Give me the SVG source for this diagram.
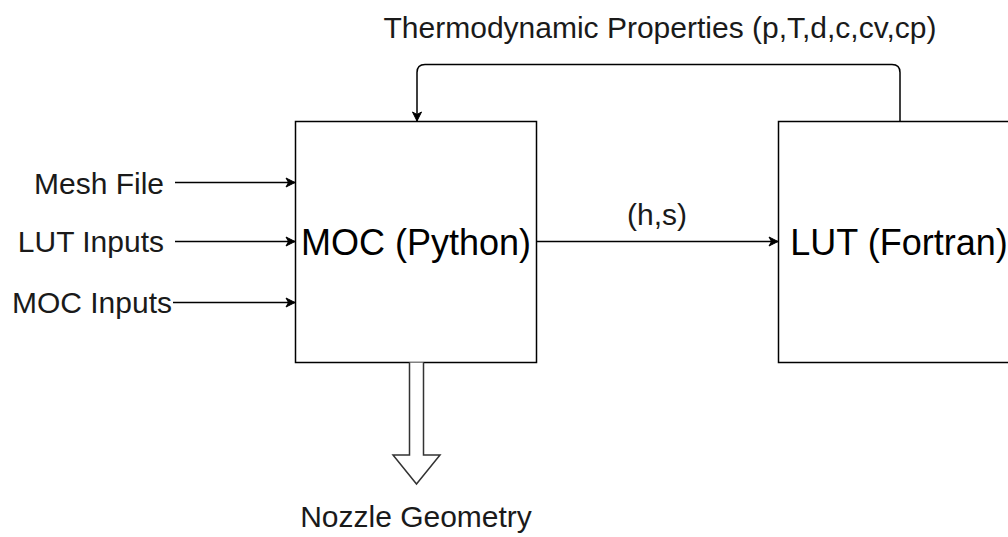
<svg xmlns="http://www.w3.org/2000/svg" width="1008" height="537" viewBox="0 0 1008 537">
  <style>
    .box { fill: #ffffff; stroke: #000000; stroke-width: 1.5; }
    .edge { fill: none; stroke: #000000; stroke-width: 1.5; }
    .lbl { font-family: "Liberation Sans", Arial, sans-serif; font-size: 30px; fill: #1a1a1a; }
    .big { font-family: "Liberation Sans", Arial, sans-serif; font-size: 36px; fill: #000000; }
  </style>
  <defs>
    <marker id="arr" markerWidth="12" markerHeight="12" viewBox="0 0 12 12" refX="10" refY="6" orient="auto" markerUnits="userSpaceOnUse">
      <path d="M1,1.5 L10,6 L1,10.5 L3.5,6 Z" fill="#000000" stroke="#000000" stroke-width="1"/>
    </marker>
  </defs>
  <rect width="1008" height="537" fill="#ffffff"/>

  <g id="moc">
    <rect class="box" x="295.5" y="121.5" width="241" height="241"/>
    <text class="big" x="416" y="254.5" text-anchor="middle">MOC (Python)</text>
  </g>

  <g id="lut">
    <rect class="box" x="778.5" y="121.5" width="241" height="241"/>
    <text class="big" x="899" y="254.5" text-anchor="middle">LUT (Fortran)</text>
  </g>

  <g id="mesh-file">
    <text class="lbl" x="164" y="193.5" text-anchor="end">Mesh File</text>
  </g>
  <g id="lut-inputs">
    <text class="lbl" x="164" y="252" text-anchor="end">LUT Inputs</text>
  </g>
  <g id="moc-inputs">
    <text class="lbl" x="172" y="313" text-anchor="end">MOC Inputs</text>
  </g>
  <g id="nozzle-geometry">
    <text class="lbl" x="416" y="527" text-anchor="middle">Nozzle Geometry</text>
  </g>
  <g id="thermo-label">
    <text class="lbl" x="660" y="38" text-anchor="middle">Thermodynamic Properties (p,T,d,c,cv,cp)</text>
  </g>

  <g id="connectors">
    <line class="edge" x1="175" y1="182.5" x2="295" y2="182.5" marker-end="url(#arr)"/>
    <line class="edge" x1="175" y1="241.5" x2="295" y2="241.5" marker-end="url(#arr)"/>
    <line class="edge" x1="173" y1="302.5" x2="295" y2="302.5" marker-end="url(#arr)"/>
    <line class="edge" x1="536.5" y1="241.5" x2="778" y2="241.5" marker-end="url(#arr)"/>
    <text class="lbl" x="657" y="225" text-anchor="middle">(h,s)</text>
    <path class="edge" d="M900,121.5 L900,72.5 Q900,64.5 892,64.5 L425,64.5 Q417,64.5 417,72.5 L417,121" marker-end="url(#arr)"/>
    <path d="M409.5,362.5 L409.5,455 L393,455 L416.5,484 L440,455 L423.5,455 L423.5,362.5" fill="#ffffff" stroke="#333333" stroke-width="1.5" stroke-linejoin="miter"/>
  </g>
</svg>
